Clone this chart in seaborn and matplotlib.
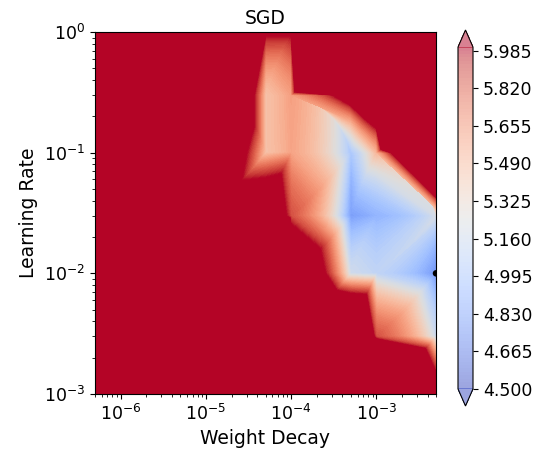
import numpy as np
import matplotlib
matplotlib.use("Agg")
import matplotlib.pyplot as plt
import matplotlib.tri as mtri
import seaborn as sns

# ---- data -------------------------------------------------------------
weight_decay = [5e-7, 1e-6, 5e-6, 1e-5, 5e-5, 1e-4, 5e-4, 1e-3, 5e-3]
learning_rate = [1e-3, 3e-3, 1e-2, 3e-2, 1e-1, 3e-1, 1.0]

# loss per learning rate (one list per lr), columns follow weight_decay
loss_lr_1     = [9.8, 9.7, 9.5, 7.00, 6.06, 6.05, 20.0, 20.0, 20.0]
loss_lr_0_3   = [9.6, 9.5, 9.3, 7.09, 5.45, 5.60, 6.35, 7.17, 20.0]
loss_lr_0_1   = [9.4, 9.3, 9.1, 6.55, 5.45, 5.58, 5.00, 5.50, 9.50]
loss_lr_0_03  = [9.3, 9.2, 9.0, 6.37, 6.45, 5.85, 4.80, 4.90, 5.20]
loss_lr_0_01  = [9.5, 9.4, 9.2, 9.00, 8.00, 6.50, 5.17, 5.10, 4.75]
loss_lr_0_003 = [9.7, 9.6, 9.4, 9.20, 9.00, 7.25, 6.98, 5.85, 5.15]
loss_lr_0_001 = [9.9, 9.8, 9.6, 9.40, 9.20, 9.00, 9.00, 7.85, 6.28]

level_min, level_max, n_levels = 4.5, 6.0, 101

# grid cells (weight-decay index, lr index) whose split diagonal runs the other way
flipped_cells = [(3, 4), (5, 4), (7, 3)]

# ---- build grid / triangulation ----------------------------------------
Z = np.array([loss_lr_0_001, loss_lr_0_003, loss_lr_0_01, loss_lr_0_03,
              loss_lr_0_1, loss_lr_0_3, loss_lr_1])
X, Y = np.meshgrid(weight_decay, learning_rate)
nx, ny = len(weight_decay), len(learning_rate)
tris = []
for j in range(ny - 1):
    for i in range(nx - 1):
        a = j * nx + i
        b = a + 1
        c = a + nx + 1
        d = a + nx
        if (i, j) in flipped_cells:
            tris.append([a, b, d])
            tris.append([b, c, d])
        else:
            tris.append([a, b, c])
            tris.append([a, c, d])
triang = mtri.Triangulation(X.ravel(), Y.ravel(), np.array(tris))

# ---- style ------------------------------------------------------------
sns.set_style("ticks", rc={
    "axes.edgecolor": "black", "xtick.color": "black", "ytick.color": "black",
    "text.color": "black", "axes.labelcolor": "black",
})
plt.rcParams["font.family"] = ["DejaVu Sans"]

cmap = sns.color_palette("coolwarm", as_cmap=True)
levels = np.linspace(level_min, level_max, n_levels)

fig = plt.figure(figsize=(5.52, 4.59), dpi=100)
ax = fig.add_axes([95 / 552, 1 - 394 / 459, 341 / 552, 362 / 459])
cax = fig.add_axes([458 / 552, 1 - 406 / 459, 15 / 552, 376 / 459])

cs = ax.tricontourf(triang, Z.ravel(), levels=levels, cmap=cmap, extend="both")

# best configuration marker
jb, ib = np.unravel_index(np.argmin(Z), Z.shape)
sns.scatterplot(x=[weight_decay[ib]], y=[learning_rate[jb]], ax=ax,
                color="black", s=22, edgecolor="none", zorder=5, legend=False)

ax.set_xscale("log")
ax.set_yscale("log")
ax.set_xlim(min(weight_decay), max(weight_decay))
ax.set_ylim(min(learning_rate), max(learning_rate))
ax.set_xlabel("Weight Decay", fontsize=13.5)
ax.set_ylabel("Learning Rate", fontsize=13.5)
ax.set_title("SGD", fontsize=13.5)
ax.tick_params(axis="both", which="major", labelsize=12.5)
for s in ax.spines.values():
    s.set_visible(True)
    s.set_color("black")

cbar = fig.colorbar(cs, cax=cax)
cbar.solids.set_alpha(0.5)
for p in getattr(cbar, "_extend_patches", []):
    p.set_alpha(0.5)
cbar.ax.tick_params(labelsize=12.5)

fig.savefig("out.png", dpi=100)
